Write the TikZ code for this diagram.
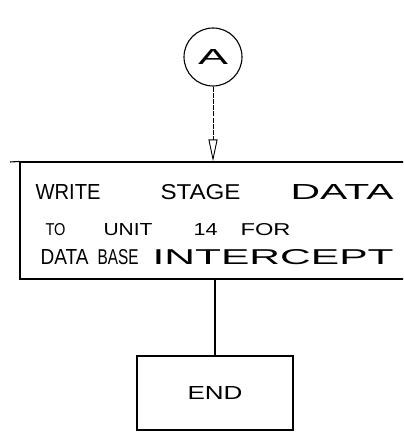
\documentclass[tikz,border=0pt]{standalone}
\usepackage{fontspec}
\setmainfont{Liberation Sans}
\usetikzlibrary{arrows.meta}
\newcommand{\hw}[3]{\resizebox{#1bp}{#2bp}{#3}}
\begin{document}
\begin{tikzpicture}[x=1bp,y=-1bp,line width=1.1bp,
  wordlbl/.style={inner sep=0pt,anchor=south west},
  boxstyle/.style={draw,rectangle,inner sep=0pt}]
\useasboundingbox (0,0) rectangle (403,436);
\clip (0,0) rectangle (403,436);
% connector A
\node[draw,circle,minimum size=58bp,inner sep=0pt] (a) at (213,57) {\hw{30}{15}{A}};
% write box (right side lies beyond the page edge)
\node[boxstyle,minimum width=392bp,minimum height=117bp] (write) at (216,220.5) {};
\coordinate (tl) at (10,162);
\draw (tl) -- (write.north west);
% line 1
\node[wordlbl] (w1) at (35,200) {\hw{65}{15}{WRITE}};
\node[wordlbl] (w2) at (160,200) {\hw{80}{15}{STAGE}};
\node[wordlbl] (w3) at (290,200) {\hw{103}{15}{DATA}};
% line 2
\node[wordlbl] (w4) at (45,236) {\hw{20}{12}{TO}};
\node[wordlbl] (w5) at (103,236) {\hw{49}{12}{UNIT}};
\node[wordlbl] (w6) at (193,236) {\hw{24}{12}{14}};
\node[wordlbl] (w7) at (240,236) {\hw{50}{12}{FOR}};
% line 3
\node[wordlbl] (w8) at (40,265) {\hw{48}{15}{DATA}};
\node[wordlbl] (w9) at (97,265) {\hw{41}{15}{BASE}};
\node[wordlbl] (w10) at (152,265) {\hw{241}{15}{INTERCEPT}};
% end box
\node[boxstyle,minimum width=156bp,minimum height=74bp] (end) at (215,393) {\hw{55}{13}{END}};
% connectors
\draw[dash pattern=on 5bp off 1.2bp,line width=0.9bp,-{Triangle[open,length=22bp,width=9bp,line width=0.9bp]}] (a.south) -- (a.south |- write.north);
\draw (write.south -| end.north) -- (end.north);
\end{tikzpicture}
\end{document}
